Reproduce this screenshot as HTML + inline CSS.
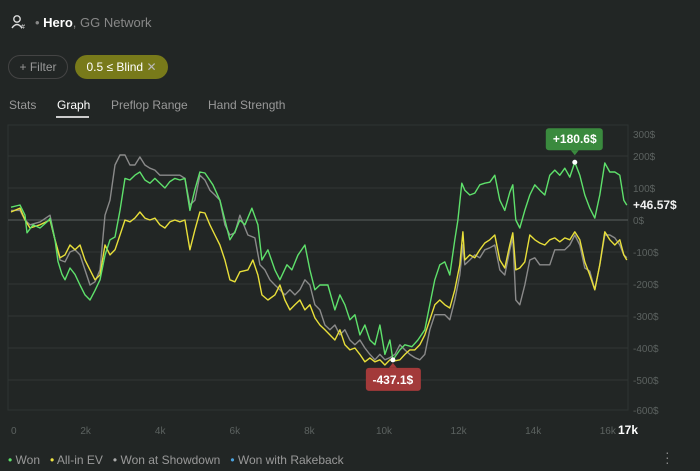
<!DOCTYPE html>
<html><head><meta charset="utf-8">
<style>
html,body{margin:0;padding:0;background:#222625;width:700px;height:471px;overflow:hidden;font-family:"Liberation Sans",sans-serif;}
.abs{position:absolute;}
</style></head>
<body>
<div style="position:relative;width:700px;height:471px;">
  <svg class="abs" style="left:11px;top:14px" width="16" height="16">
    <circle cx="6" cy="5" r="3.2" fill="none" stroke="#ddd" stroke-width="1.4"/>
    <path d="M1 14 Q6 7 11 14" fill="none" stroke="#ddd" stroke-width="1.4"/>
    <text x="10" y="15" font-size="7" fill="#ddd">#</text>
  </svg>
  <div class="abs" style="left:35px;top:15px;font-size:13px;color:#888">• <b style="color:#fff;font-weight:bold">Hero</b>, GG Network</div>
  <div class="abs" style="left:8px;top:55px;width:58px;height:22px;border:1px solid #444;border-radius:12px;color:#999;font-size:12px;line-height:22px;text-align:center">+ Filter</div>
  <div class="abs" style="left:75px;top:55px;width:93px;height:24px;background:#787a1a;border-radius:12px;color:#fff;font-size:12px;line-height:24px;text-align:center">0.5 ≤ Blind <span style="color:#bbb">✕</span></div>
  <div class="abs" style="left:9px;top:98px;font-size:12px;color:#999">Stats</div>
  <div class="abs" style="left:57px;top:98px;font-size:12px;color:#fff">Graph</div>
  <div class="abs" style="left:56px;top:116px;width:33px;height:2px;background:#ccc"></div>
  <div class="abs" style="left:111px;top:98px;font-size:12px;color:#999">Preflop Range</div>
  <div class="abs" style="left:208px;top:98px;font-size:12px;color:#999">Hand Strength</div>
  <svg id="chart" class="abs" style="left:0;top:0" width="700" height="471"></svg>
  <div class="abs" style="left:8px;top:453px;font-size:12px;color:#999;white-space:nowrap">
    <span><span style="color:#5de06a">•</span> Won</span>&nbsp;&nbsp;
    <span><span style="color:#f0e442">•</span> All-in EV</span>&nbsp;&nbsp;
    <span><span style="color:#aaa">•</span> Won at Showdown</span>&nbsp;&nbsp;
    <span><span style="color:#4aa3df">•</span> Won with Rakeback</span>
  </div>
  <div class="abs" style="left:665px;top:450px;font-size:14px;color:#888;line-height:5px">·<br>·<br>·</div>
</div>
<script>
const wonHands=[0,241,375,429,590,777,965,1045,1179,1260,1367,1447,1581,1715,1849,1983,2117,2251,2385,2519,2653,2787,2921,3055,3189,3323,3457,3591,3725,3859,3993,4127,4261,4395,4529,4663,4797,4931,5065,5199,5414,5601,5735,5869,6003,6137,6271,6459,6620,6727,6888,7075,7209,7397,7531,7692,7879,8013,8147,8281,8496,8683,8817,8951,9085,9219,9353,9487,9621,9755,9889,10023,10157,10238,10425,10559,10747,10908,11095,11229,11363,11497,11631,11765,11899,11980,12087,12167,12301,12435,12569,12703,12837,12971,13105,13239,13373,13454,13534,13641,13775,13909,14043,14177,14311,14445,14579,14713,14847,14981,15115,15249,15383,15517,15651,15785,15919,16053,16187,16321,16428,16509];
const wonValues=[40,47,15,-40,-15,-25,-6,5,-62,-130,-170,-187,-150,-170,-203,-234,-250,-220,-187,-110,-62,-53,30,130,125,140,150,125,115,130,115,100,120,130,125,130,30,95,150,147,110,62,0,-62,-37,0,-15,37,-15,-125,-93,-156,-187,-140,-156,-110,-78,-156,-218,-203,-203,-281,-234,-265,-312,-296,-359,-328,-375,-390,-328,-420,-375,-437.1,-406,-390,-396,-375,-343,-265,-187,-140,-131,-172,-62,0,115,93,78,84,110,115,118,140,62,30,87,110,0,-25,30,78,110,93,78,140,156,140,162,134,180.6,140,78,37,6,78,178,150,150,140,62,46.57];
const evHands=[0,241,375,509,777,1045,1179,1313,1447,1581,1715,1849,1983,2117,2251,2385,2519,2653,2787,2921,3055,3189,3323,3457,3591,3725,3859,3993,4127,4261,4395,4529,4663,4797,4931,5065,5199,5333,5467,5601,5735,5869,6003,6137,6352,6486,6620,6727,6888,7075,7209,7343,7477,7611,7745,7879,8013,8147,8281,8415,8549,8683,8817,8951,9085,9219,9353,9487,9621,9755,9889,10023,10157,10291,10425,10559,10693,10827,10961,11095,11229,11363,11497,11631,11765,11899,12033,12114,12167,12301,12435,12569,12703,12837,12971,13105,13239,13373,13454,13534,13641,13775,13909,14043,14177,14311,14445,14579,14713,14847,14981,15115,15249,15383,15517,15651,15785,15919,16053,16187,16321,16428,16509];
const evValues=[25,37,0,-25,-15,0,-62,-118,-109,-78,-93,-78,-125,-156,-187,-172,-78,-109,-93,-47,0,-6,6,25,6,0,6,-15,-25,-6,0,-6,0,-93,-31,25,22,-15,-47,-78,-125,-187,-193,-162,-156,-125,-172,-234,-250,-234,-203,-250,-281,-265,-250,-281,-265,-306,-328,-343,-359,-375,-343,-390,-406,-400,-420,-443,-431,-443,-437,-453,-437,-440,-437,-420,-406,-406,-390,-359,-312,-265,-250,-265,-275,-218,-140,-37,-125,-109,-118,-93,-72,-62,-47,-125,-150,-78,-40,-156,-150,-131,-47,-62,-72,-78,-62,-56,-68,-56,-62,-37,-62,-131,-172,-218,-140,-37,-62,-78,-62,-109,-125];
const sdHands=[0,241,375,509,777,1045,1179,1313,1447,1581,1715,1849,1983,2117,2251,2385,2519,2653,2787,2921,3055,3189,3323,3457,3591,3725,3859,3993,4127,4261,4395,4529,4663,4797,4931,5065,5199,5333,5467,5601,5735,5869,6003,6137,6352,6539,6673,6807,6941,7075,7209,7343,7477,7611,7745,7879,8013,8147,8281,8415,8549,8683,8817,8951,9085,9219,9353,9487,9621,9755,9889,10023,10157,10291,10425,10559,10693,10827,10961,11095,11229,11363,11497,11631,11765,11899,12033,12114,12167,12301,12435,12569,12703,12837,12971,13105,13239,13373,13454,13534,13641,13775,13909,14043,14177,14311,14445,14579,14713,14847,14981,15115,15249,15383,15517,15651,15785,15919,16053,16187,16321,16428,16509];
const sdValues=[30,30,0,-15,-6,15,-62,-125,-131,-100,-93,-109,-156,-203,-193,-156,15,62,172,203,203,172,172,197,172,162,156,140,140,140,140,140,130,47,62,140,125,93,78,62,-15,-47,-40,15,-47,-56,-140,-156,-187,-203,-218,-234,-218,-234,-218,-187,-203,-265,-281,-328,-343,-328,-359,-343,-375,-390,-375,-400,-420,-437,-420,-437,-430,-420,-390,-406,-420,-430,-437,-420,-343,-296,-296,-296,-312,-250,-172,-78,-140,-125,-109,-118,-93,-87,-78,-156,-172,-93,-56,-250,-265,-203,-125,-118,-140,-140,-140,-93,-93,-93,-78,-47,-78,-150,-160,-218,-140,-47,-47,-56,-78,-109,-118];
const yTicks=[300,200,100,0,-100,-200,-300,-400,-500,-600];
const xTicks=[0,2000,4000,6000,8000,10000,12000,14000,16000];
const xTickLabels=["0","2k","4k","6k","8k","10k","12k","14k","16k"];

const NS="http://www.w3.org/2000/svg";
const svg=document.getElementById('chart');
const X0=11,XS=37.3/1000,Y0=220,YS=0.32;
const xs=h=>X0+h*XS, ys=v=>Y0-v*YS;
function mk(t,a,p){const e=document.createElementNS(NS,t);for(const k in a)e.setAttribute(k,a[k]);(p||svg).appendChild(e);return e;}
// frame
const frame=mk('rect',{x:8,y:125,width:620,height:285,fill:'none',stroke:'#2e3432'});


yTicks.forEach(v=>{
  const y=ys(v);
  if(v<300&&v>-600){const g=mk('line',{x1:8,x2:628,y1:y,y2:y,stroke:v===0?'#5a605e':'#313735','stroke-width':1});
  
  }
  const t=mk('text',{x:633,y:(v===300?134:v===-600?410:y)+4,fill:'#5c6260','font-size':10});
  t.textContent=v+'$';
  
  
});
xTicks.forEach((h,i)=>{
  const t=mk('text',{x:xs(h),y:434,fill:'#5c6260','font-size':10,'text-anchor':i===0?'start':'middle'});
  t.textContent=xTickLabels[i];
  
  
});
const xe=mk('text',{x:618,y:434,fill:'#fff','font-size':12,'font-weight':'bold'});xe.textContent='17k';


function line(hs,vs,c,name){
  const d=hs.map((h,i)=>(i?'L':'M')+xs(h).toFixed(1)+' '+ys(vs[i]).toFixed(1)).join(' ');
  const p=mk('path',{d:d,fill:'none',stroke:c,'stroke-width':1.4,'stroke-linejoin':'round'});
  
  
}
line(sdHands,sdValues,'#8a8a8a','showdown-line');
line(evHands,evValues,'#e8df3a','allin-ev-line');
line(wonHands,wonValues,'#5ee06b','won-line');
// annotations
const iMax=wonValues.indexOf(Math.max(...wonValues)), iMin=wonValues.indexOf(Math.min(...wonValues));
const mx=xs(wonHands[iMax]),my=ys(wonValues[iMax]),nx=xs(wonHands[iMin]),ny=ys(wonValues[iMin]);
const g1=mk('g',{});


mk('rect',{x:mx-29,y:my-34,width:57,height:22,rx:3,fill:'#3a8a3e'},g1);
mk('path',{d:`M${mx-4} ${my-12} L${mx} ${my-7} L${mx+4} ${my-12}Z`,fill:'#3a8a3e'},g1);
mk('circle',{cx:mx,cy:my,r:2.5,fill:'#fff'},g1);
const t1=mk('text',{x:mx,y:my-19,fill:'#fff','font-size':12,'font-weight':'bold','text-anchor':'middle'},g1);t1.textContent='+'+wonValues[iMax]+'$';
const g2=mk('g',{});


mk('rect',{x:nx-27,y:ny+8,width:55,height:23,rx:3,fill:'#a33a3a'},g2);
mk('path',{d:`M${nx-4} ${ny+8} L${nx} ${ny+3} L${nx+4} ${ny+8}Z`,fill:'#a33a3a'},g2);
mk('circle',{cx:nx,cy:ny,r:2.5,fill:'#fff'},g2);
const t2=mk('text',{x:nx,y:ny+24,fill:'#fff','font-size':12,'font-weight':'bold','text-anchor':'middle'},g2);t2.textContent=wonValues[iMin]+'$';
const last=wonValues[wonValues.length-1];
const t3=mk('text',{x:633,y:ys(last)+4,fill:'#f0f0f0','font-size':12,'font-weight':'bold'});t3.textContent='+'+last+'$';


</script>
</body></html>
